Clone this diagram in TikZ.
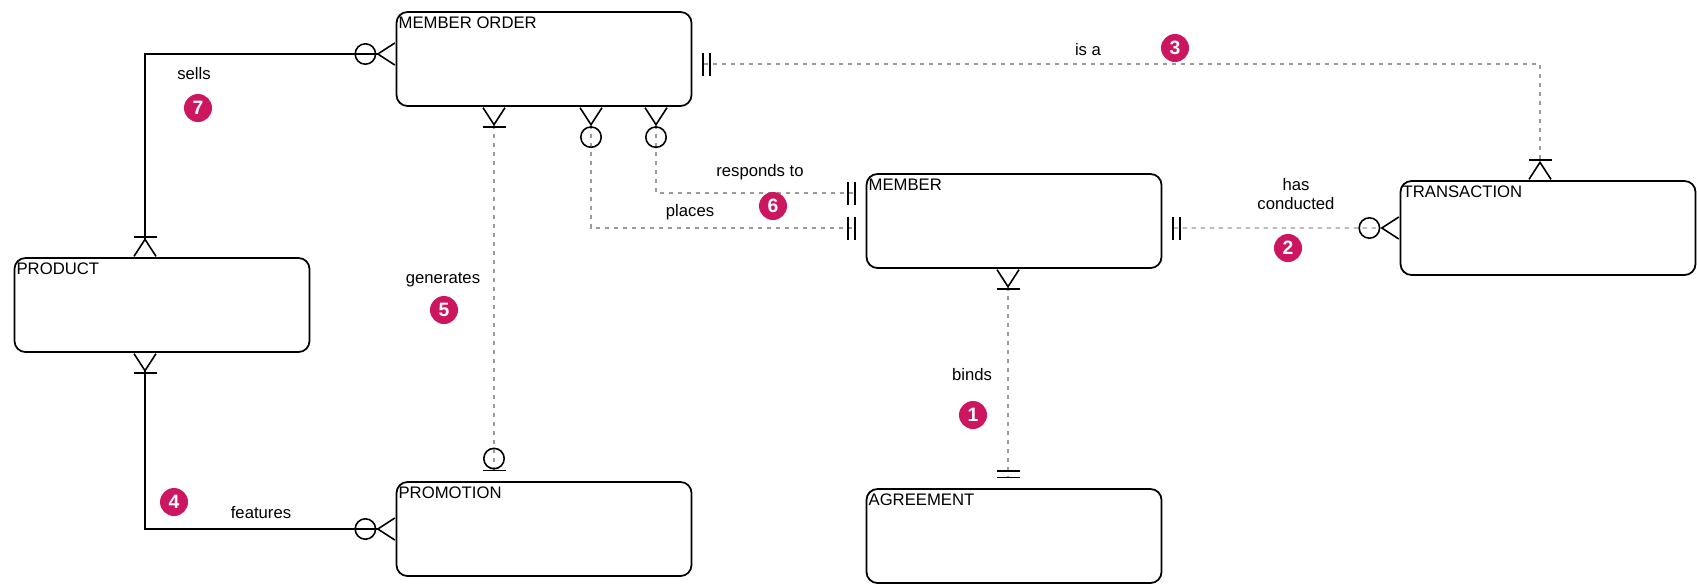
\documentclass[tikz,border=0pt]{standalone}
\usepackage{fontspec}
\setmainfont{Liberation Sans}
\usetikzlibrary{arrows.meta}

\definecolor{badgepink}{RGB}{204,22,96}
\definecolor{relgray}{RGB}{155,155,155}

\begin{document}
\begin{tikzpicture}[
  x=0.2mm, y=-0.2mm,
  font=\fontsize{9.5}{11}\selectfont,
  entity/.style = {draw, line width=1pt, rounded corners=2.2mm, minimum width=59mm, minimum height=18.8mm},
  title/.style  = {anchor=north west, inner xsep=1.5pt, inner ysep=3pt},
  strong/.style = {line width=0.9pt},
  weak/.style   = {relgray, line width=0.7pt, dash pattern=on 0.9mm off 0.9mm},
  badge/.style  = {circle, fill=badgepink, text=white, minimum size=5.6mm, inner sep=0pt, font=\fontsize{11}{11}\selectfont\bfseries},
  zmany/.tip = {Circle[open, length=4.4mm, width=4.4mm, line width=0.9pt, color=black] Straight Barb[reversed, length=3.4mm, width=4.4mm, line width=0.9pt, color=black]},
  omany/.tip = {Bar[width=4.6mm, line width=0.9pt, color=black] Straight Barb[reversed, length=3.4mm, width=4.4mm, line width=0.9pt, color=black]},
  zone/.tip  = {Circle[open, length=4.4mm, width=4.4mm, line width=0.9pt, color=black] Bar[width=4.6mm, line width=0.9pt, color=black]},
  oone/.tip  = {Bar[width=4.6mm, sep=1mm, line width=0.9pt, color=black] Bar[width=4.6mm, line width=0.9pt, color=black]}
]
  \useasboundingbox (0,0) rectangle (1697,585);

  % Entities
  \node[entity, label={[title]north west:MEMBER ORDER}] (order) at (544,59) {};
  \node[entity, label={[title]north west:PRODUCT}] (product) at (162,305) {};
  \node[entity, label={[title]north west:PROMOTION}] (promo) at (544,529) {};
  \node[entity, label={[title]north west:MEMBER}] (member) at (1014,221) {};
  \node[entity, label={[title]north west:AGREEMENT}] (agree) at (1014,536) {};
  \node[entity, label={[title]north west:TRANSACTION}] (trans) at (1548,228) {};

  % Relationships
  \draw[strong, {omany}-{zmany}] ([xshift=-3.4mm]product.north) |- ([yshift=1mm]order.west);
  \draw[strong, {omany}-{zmany}] ([xshift=-3.4mm]product.south) |- (promo.west);
  \draw[weak, {omany}-{zone}, shorten >=2mm] ([xshift=-10mm]order.south) -- ([xshift=-10mm]promo.north);
  \draw[weak, {zmany}-{oone}, shorten >=2mm] ([xshift=9.4mm]order.south) |- ([yshift=-1.4mm]member.west);
  \draw[weak, {zmany}-{oone}, shorten >=2mm] ([xshift=22.4mm]order.south) |- ([yshift=5.6mm]member.west);
  \draw[weak, {oone}-{omany}, shorten <=2mm] ([yshift=-1mm]order.east) -| ([xshift=-1.6mm]trans.north);
  \draw[weak, {oone}-{zmany}, shorten <=2mm] ([yshift=-1.4mm]member.east) -- (trans.west);
  \draw[weak, {omany}-{oone}, shorten >=2mm] ([xshift=-1.2mm]member.south) -- ([xshift=-1.2mm]agree.north);

  % Labels
  \node (sellslbl) at (194,74) {sells};
  \node (featlbl) at (261,513) {features};
  \node (genlbl) at (443,280) {generates};
  \node (resplbl) at (760,172) {responds to};
  \node (placelbl) at (690,212) {places};
  \node (isalbl) at (1088,50) {is a};
  \node[align=center] (conlbl) at (1296,194) {has\\conducted};
  \node (bindlbl) at (972,375) {binds};

  % Numbered markers
  \node[badge] (b1) at (973,415) {1};
  \node[badge] (b2) at (1288,248) {2};
  \node[badge] (b3) at (1175,48) {3};
  \node[badge] (b4) at (174,502) {4};
  \node[badge] (b5) at (444,310) {5};
  \node[badge] (b6) at (773,206) {6};
  \node[badge] (b7) at (198,108) {7};

\end{tikzpicture}
\end{document}
